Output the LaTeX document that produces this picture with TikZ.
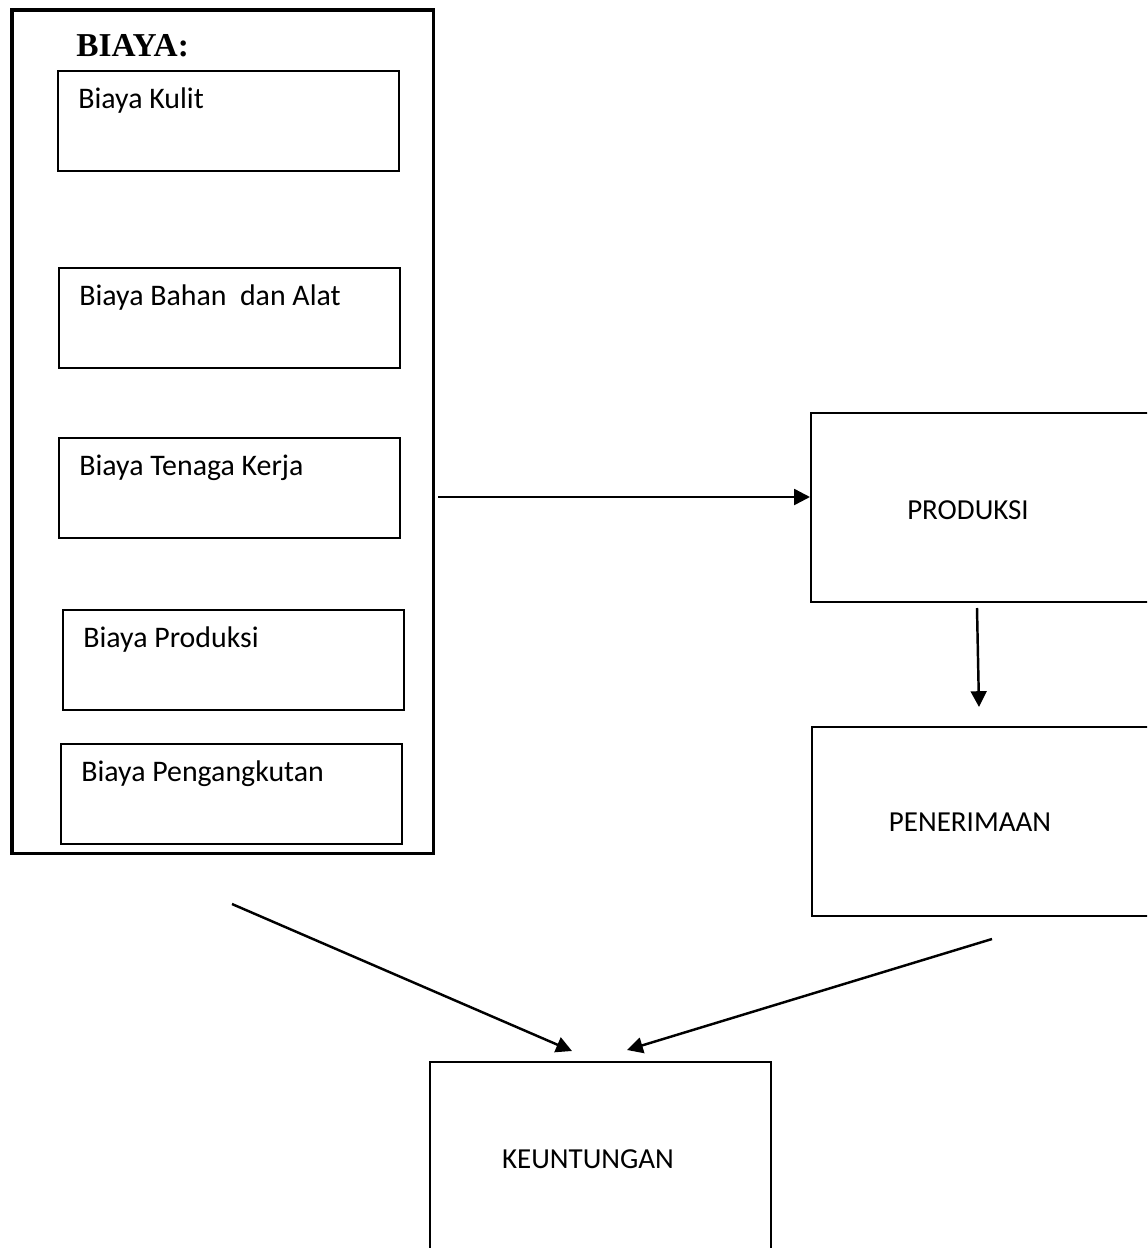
\documentclass[tikz,border=0pt]{standalone}
\usepackage{fontspec}
\setmainfont{Carlito}
\newfontfamily\titlefont{Liberation Serif}
\usetikzlibrary{arrows.meta}
\usetikzlibrary{positioning}

\begin{document}
\begin{tikzpicture}[x=0.02cm, y=-0.02cm,
	costbox/.style={draw, line width=1.1pt, anchor=north west, minimum width=6.82cm, minimum height=2cm, inner sep=0pt},
	bigbox/.style={draw, line width=1.1pt, anchor=north west, inner sep=0pt},
	costtext/.style={anchor=base west, inner sep=0pt, font=\fontsize{17}{20}\selectfont},
	boxtext/.style={anchor=center, inner sep=0pt, font=\fontsize{16.5}{20}\selectfont},
	flow/.style={-{Triangle[length=9pt,width=9pt]}, line width=1.4pt}]

	\useasboundingbox (0,0) rectangle (1147,1248);
	\clip (0,0) rectangle (1147,1248);

	% outer cost block
	\node(biaya) [draw, line width=2pt, anchor=north west, minimum width=8.44cm, minimum height=16.88cm, inner sep=0pt] at (10,8) {};
	\node(biayatitle) [anchor=base west, inner sep=0pt, font=\titlefont\bfseries\fontsize{19}{22}\selectfont] at (76,56) {BIAYA:};

	\node(kulit) [costbox] at (57,70) {};
	\node(bahan) [costbox] at (58,267) {};
	\node(tenaga) [costbox] at (58,437) {};
	\node(prodbiaya) [costbox] at (62,609) {};
	\node(angkut) [costbox] at (60,743) {};

	\node(kulittext) [costtext] at ([shift={(21,38)}]kulit.north west) {Biaya Kulit};
	\node(bahantext) [costtext] at ([shift={(21,38)}]bahan.north west) {Biaya Bahan\ \ dan Alat};
	\node(tenagatext) [costtext] at ([shift={(21,38)}]tenaga.north west) {Biaya Tenaga Kerja};
	\node(prodbiayatext) [costtext] at ([shift={(21,38)}]prodbiaya.north west) {Biaya Produksi};
	\node(angkuttext) [costtext] at ([shift={(21,38)}]angkut.north west) {Biaya Pengangkutan};

	% right column and result
	\node(produksi) [bigbox, minimum width=8cm, minimum height=3.78cm] at (810,412) {};
	\node(penerimaan) [bigbox, minimum width=8cm, minimum height=3.78cm] at (811,726) {};
	\node(keuntungan) [bigbox, minimum width=6.82cm, minimum height=5cm] at (429,1061) {};

	\node(produksitext) [boxtext] at (968,510) {PRODUKSI};
	\node(penerimaantext) [boxtext] at (970,822) {PENERIMAAN};
	\node(keuntungantext) [boxtext] at (588,1159) {KEUNTUNGAN};

	\coordinate (costout) at (438,497);
	\coordinate (prodout) at (977,608);
	\coordinate (penin) at (979,707);
	\coordinate (costdown) at (232,904);
	\coordinate (untungleft) at (572,1051);
	\coordinate (penout) at (992,939);
	\coordinate (untungright) at (627,1050);

	\draw[flow] (costout) -- (costout -| produksi.west);
	\draw[flow] (prodout) -- (penin);
	\draw[flow] (costdown) -- (untungleft);
	\draw[flow] (penout) -- (untungright);

\end{tikzpicture}
\end{document}
